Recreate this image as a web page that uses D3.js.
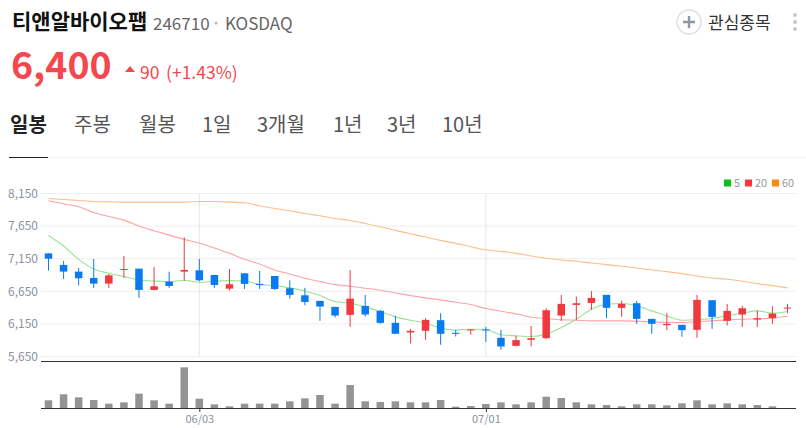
<!DOCTYPE html>
<html>
<head>
<meta charset="utf-8">
<script src="https://cdn.jsdelivr.net/npm/d3@7"></script>
<style>
body { margin: 0; background: #fff; overflow: hidden; }
text { font-family: "Noto Sans CJK KR", "Noto Sans", sans-serif; }
</style>
</head>
<body>
<div id="chart-area"></div>
<script>
const dates = ["06/03", "07/01"];
const dateIdx = [10, 29];
const priceTicks = [5650, 6150, 6650, 7150, 7650, 8150];
const tabs = ["일봉", "주봉", "월봉", "1일", "3개월", "1년", "3년", "10년"];
const tabX = [10, 74, 139, 202, 257, 333, 387, 442];

const opens = [7232,7054,6952,6855,6768,6977,6997,6671,6798,6952,
  6972,6900,6691,6926,6763,6885,6697,6589,6503,6411,
  6288,6426,6350,6166,6018,6044,6207,6013,6049,6064,
  5937,5814,5906,5931,6278,6441,6472,6595,6396,6467,
  6227,6130,6135,6059,6513,6197,6294,6217,6237,6390];
const closes = [7150,6952,6850,6768,6895,6992,6671,6727,6732,6977,
  6819,6747,6758,6763,6747,6686,6595,6487,6416,6278,
  6538,6294,6166,5998,6044,6212,5998,6003,6064,6049,
  5804,5901,5931,6360,6457,6467,6549,6396,6457,6227,
  6151,6151,6054,6518,6258,6350,6390,6237,6309,6400];
const highs = [7232,7115,7008,7145,6916,7191,6997,7023,6951,7477,
  7145,6900,6992,6926,6962,6885,6819,6702,6503,6411,
  6977,6595,6365,6273,6074,6238,6314,6059,6069,6105,
  6059,5967,6120,6390,6595,6569,6656,6595,6503,6503,
  6227,6314,6135,6595,6513,6457,6426,6355,6421,6457];
const lows = [6967,6839,6742,6702,6702,6855,6549,6671,6702,6809,
  6804,6702,6661,6686,6686,6671,6538,6436,6197,6248,
  6105,6263,6151,5998,5850,5906,5830,5957,5983,5875,
  5753,5804,5804,5921,6197,6212,6365,6237,6258,6151,
  5998,6054,5952,5937,6074,6125,6105,6105,6151,6314];
const volumes = [230,410,320,240,130,170,430,230,130,1220,
  280,110,50,130,130,130,200,290,390,130,
  690,200,180,200,170,170,240,40,60,120,
  170,110,170,340,300,170,110,90,50,110,
  110,80,140,230,110,140,110,90,50,0];
const ma5 = [7507,7344,7140,6992,6926,6875,6824,6809,6799,6819,
  6788,6804,6814,6809,6753,6737,6702,6656,6584,6492,
  6467,6411,6340,6258,6207,6161,6085,6054,6069,6064,
  5983,5967,5957,5993,6095,6222,6375,6452,6462,6426,
  6350,6273,6207,6217,6232,6278,6314,6350,6314,6340];
const ma20 = [8038,7992,7946,7859,7798,7742,7650,7579,7512,7446,
  7390,7314,7232,7140,7069,6977,6916,6850,6799,6753,
  6727,6697,6666,6625,6584,6549,6518,6482,6447,6385,
  6345,6304,6253,6232,6212,6207,6197,6197,6197,6192,
  6181,6171,6171,6186,6197,6212,6222,6227,6243,6268];
const ma60 = [8074,8058,8043,8028,8022,8017,8017,8017,8017,8017,
  8028,8028,8017,8007,7961,7921,7885,7844,7808,7767,
  7737,7691,7640,7584,7533,7482,7431,7385,7334,7288,
  7263,7232,7191,7156,7130,7110,7084,7059,7033,7008,
  6977,6952,6921,6885,6855,6834,6804,6768,6737,6702];
const legendNames = ["5", "20", "60"];
const legendColors = ["#10bb22", "#f5383e", "#f98a14"];
const lineColors = ["#97e497", "#ffa3a6", "#f9c08b"];

const svg = d3.select("#chart-area")
  .append("svg")
  .attr("width", 806)
  .attr("height", 428);

const x = d3.scaleLinear().domain([0, 49]).range([48.5, 787.5]);
const y = d3.scaleLinear().domain([5650, 8150]).range([356.5, 193.5]);
const yVol = d3.scaleLinear().domain([0, 1220]).range([408, 367.3]);

const red = "#f0393e";
const blue = "#0a7bef";
const idx = d3.range(opens.length);

// header
function label(t, px, py, size, color, weight) {
  return svg.append("text").attr("x", px).attr("y", py)
    .attr("font-size", size).attr("fill", color)
    .attr("font-weight", weight || 400).text(t);
}
label("티앤알바이오팹", 12, 29, 21, "#111", 700);
label("246710", 153, 30, 17, "#666");
svg.append("circle").attr("cx", 216).attr("cy", 23).attr("r", 1.6).attr("fill", "#bbb");
label("KOSDAQ", 225, 30, 17, "#666");
label("6,400", 11, 79, 37.5, "#f5484e", 700);
svg.append("path").attr("d", "M125,72L130,66L135,72Z").attr("fill", "#f5484e");
label("90", 140, 79, 17.5, "#f5484e");
label("(+1.43%)", 166, 79, 17.5, "#f5484e");

svg.append("circle").attr("cx", 689).attr("cy", 22).attr("r", 12)
  .attr("fill", "#fff").attr("stroke", "#dcdfe6").attr("stroke-width", 1.5);
svg.append("path").attr("d", "M683,22H695M689,16V28")
  .attr("stroke", "#8d96a3").attr("stroke-width", 2.4);
label("관심종목", 708, 29, 17, "#333");
svg.selectAll(".dot").data([15, 22, 29]).enter().append("circle")
  .attr("cx", 795).attr("cy", d => d).attr("r", 2).attr("fill", "#c5c9d2");

tabs.forEach((t, i) => {
  label(t, tabX[i], 132, 20, i == 0 ? "#222" : "#555", i == 0 ? 700 : 400);
});
svg.append("line").attr("x1", 9).attr("x2", 806).attr("y1", 157.5).attr("y2", 157.5)
  .attr("stroke", "#f2f2f2");
svg.append("line").attr("x1", 9).attr("x2", 48).attr("y1", 157.5).attr("y2", 157.5)
  .attr("stroke", "#222");

// legend
const legendX = [724, 745, 772];
legendNames.forEach((n, i) => {
  svg.append("rect").attr("x", legendX[i]).attr("y", 179.5).attr("width", 7).attr("height", 7)
    .attr("fill", legendColors[i]);
  label(n, legendX[i] + 10, 187, 11, "#999");
});

// price axis + grid
const yAxis = svg.append("g")
  .attr("transform", "translate(41,0)")
  .call(d3.axisLeft(y).tickValues(priceTicks).tickFormat(d3.format(",")).tickSize(0).tickPadding(3));
yAxis.select(".domain").remove();
yAxis.selectAll("text").attr("fill", "#8b929c").attr("font-size", 12)
  .style("font-family", '"Noto Sans CJK KR", sans-serif');
svg.append("g").selectAll("line").data(priceTicks).enter().append("line")
  .attr("x1", 41).attr("x2", 796)
  .attr("y1", d => y(d)).attr("y2", d => y(d))
  .attr("stroke", "#eeeeee");
svg.append("g").selectAll("line").data(dateIdx).enter().append("line")
  .attr("x1", d => x(d)).attr("x2", d => x(d))
  .attr("y1", 193.5).attr("y2", 356.5)
  .attr("stroke", "#e6e6e8");

// moving averages
const line = d3.line().x((d, i) => x(i)).y(d => y(d)).curve(d3.curveMonotoneX);
[ma5, ma20, ma60].forEach((s, i) => {
  svg.append("path").attr("d", line(s)).attr("fill", "none")
    .attr("stroke", lineColors[i]).attr("stroke-width", 1.1);
});

// candles
const col = i => closes[i] >= opens[i] ? red : blue;
svg.append("g").selectAll("line").data(idx).enter().append("line")
  .attr("x1", i => x(i)).attr("x2", i => x(i))
  .attr("y1", i => y(highs[i])).attr("y2", i => y(lows[i]))
  .attr("stroke", col).attr("stroke-width", 1);
svg.append("g").selectAll("rect").data(idx).enter().append("rect")
  .attr("x", i => x(i) - 3.75).attr("width", 7.5)
  .attr("y", i => y(Math.max(opens[i], closes[i])))
  .attr("height", i => Math.max(1, Math.abs(y(opens[i]) - y(closes[i]))))
  .attr("fill", col);

// volume
svg.append("g").selectAll("rect").data(idx).enter().append("rect")
  .attr("x", i => x(i) - 3.75).attr("width", 7.5)
  .attr("y", i => yVol(volumes[i]))
  .attr("height", i => yVol(0) - yVol(volumes[i]))
  .attr("fill", "#949494");

svg.append("line").attr("x1", 41).attr("x2", 796).attr("y1", 361.5).attr("y2", 361.5)
  .attr("stroke", "#333");

// date axis
const xAxis = svg.append("g")
  .attr("transform", "translate(0,408)")
  .call(d3.axisBottom(x).tickValues(dateIdx).tickFormat((d, i) => dates[i]).tickSize(4).tickPadding(3).tickSizeOuter(0));
xAxis.select(".domain").attr("d", "M41,0.5H796").attr("stroke", "#333");
xAxis.selectAll(".tick line").attr("stroke", "#333");
xAxis.selectAll("text").attr("fill", "#8b929c").attr("font-size", 11)
  .style("font-family", '"Noto Sans CJK KR", sans-serif');
</script>
</body>
</html>
